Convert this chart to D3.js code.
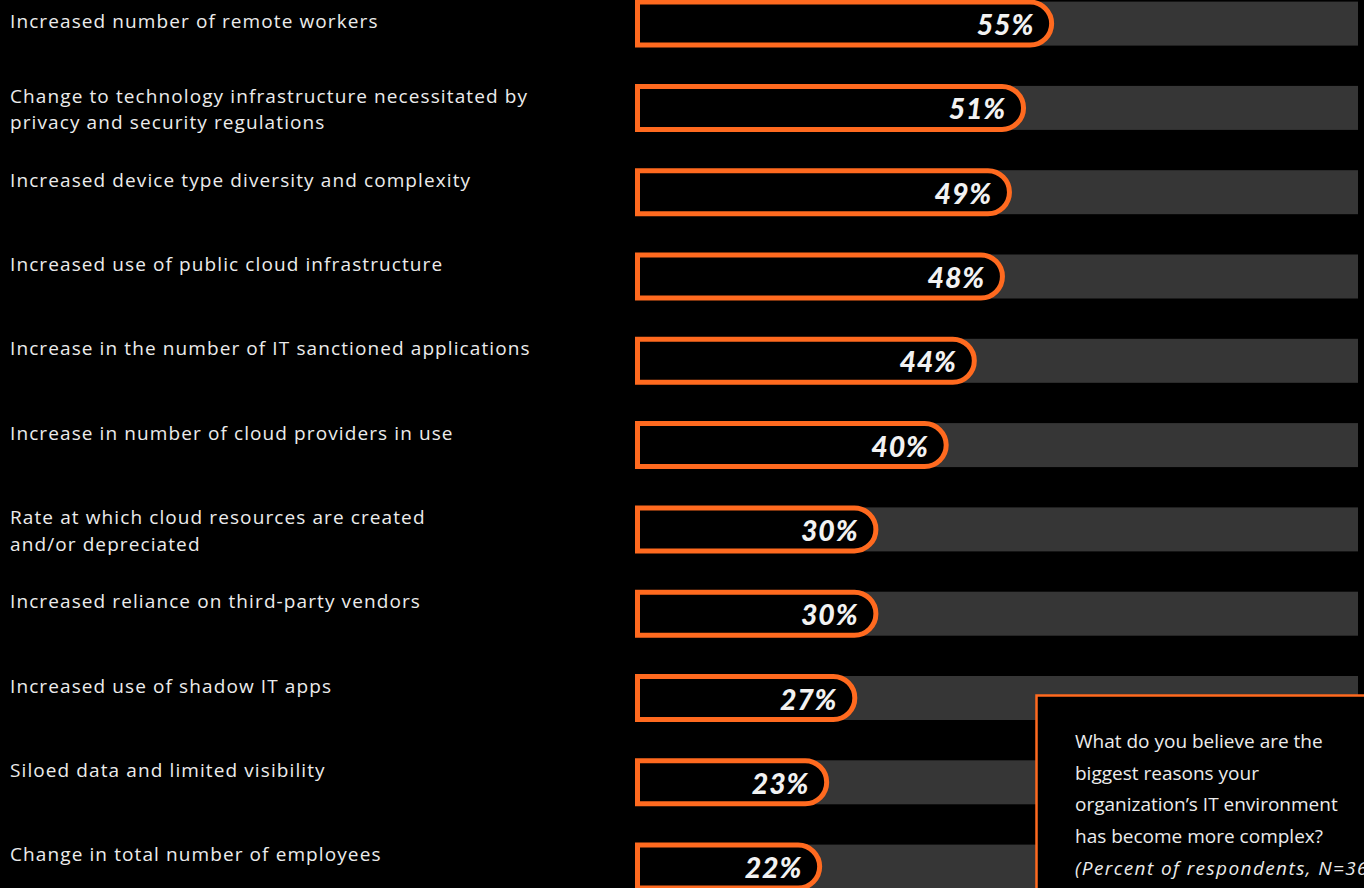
<!DOCTYPE html>
<html>
<head>
<meta charset="utf-8">
<script src="https://cdn.jsdelivr.net/npm/d3@7"></script>
<style>
  html, body { margin: 0; padding: 0; background: #000; overflow: hidden; }
  svg { display: block; }
</style>
</head>
<body>
<svg id="chart" width="1364" height="888"></svg>
<script>
// Reasons for growing IT complexity (percent of respondents)
const categories = [
  "Increased number of remote workers",
  "Change to technology infrastructure necessitated by\nprivacy and security regulations",
  "Increased device type diversity and complexity",
  "Increased use of public cloud infrastructure",
  "Increase in the number of IT sanctioned applications",
  "Increase in number of cloud providers in use",
  "Rate at which cloud resources are created\nand/or depreciated",
  "Increased reliance on third-party vendors",
  "Increased use of shadow IT apps",
  "Siloed data and limited visibility",
  "Change in total number of employees"
];
const values = [55, 51, 49, 48, 44, 40, 30, 30, 27, 23, 22];
const questionLines = [
  "What do you believe are the",
  "biggest reasons your",
  "organization\u2019s IT environment",
  "has become more complex?"
];
const noteLine = "(Percent of respondents, N=365)";

const ORANGE = "#ff6a1f";
const TRACK = "#363636";
const TEXT = "#ececec";

const svg = d3.select("#chart");

const rows = values.map((v, i) => ({ label: categories[i], value: v, i }));

// vertical layout: one band per category
const y = d3.scaleBand()
  .domain(rows.map(d => d.i))
  .range([-0.4, -0.4 + 84.3 * rows.length])
  .paddingInner(0).paddingOuter(0);

// horizontal value scale for the bar ends
const x = d3.scaleLinear().domain([0, 100]).range([667.5, 1370.5]);

const barLeft = 635;
const trackRight = 1358;
const barH = 48;     // outer height of the outlined bar
const sw = 5;        // outline width

const g = svg.append("g");

const row = g.selectAll("g.row").data(rows).join("g")
  .attr("class", "row")
  .attr("transform", d => `translate(0,${y(d.i)})`);

// grey background track
row.append("rect")
  .attr("x", barLeft)
  .attr("y", 2)
  .attr("width", trackRight - barLeft)
  .attr("height", 44)
  .attr("fill", TRACK);

// outlined value bar: square left edge, round right cap
row.append("path")
  .attr("d", d => {
    const x0 = barLeft + sw / 2;
    const x1 = x(d.value) - sw / 2;
    const t = sw / 2, b = barH - sw / 2;
    const r = (b - t) / 2;
    return `M${x0},${t}H${x1 - r}A${r},${r} 0 0 1 ${x1 - r},${b}H${x0}Z`;
  })
  .attr("fill", "#000")
  .attr("stroke", ORANGE)
  .attr("stroke-width", sw);

// percentage labels inside the bars
row.append("text")
  .attr("x", d => x(d.value) - 20)
  .attr("y", 35.5)
  .attr("text-anchor", "end")
  .attr("fill", "#f2f2f2")
  .style("font-family", "Lato, 'Open Sans', sans-serif")
  .style("font-weight", 900)
  .style("font-style", "italic")
  .style("font-size", "28.5px")
  .style("letter-spacing", "0.8px")
  .text(d => d.value + "%");

// category labels on the left
row.append("text")
  .attr("x", 10)
  .attr("y", d => d.i === 0 ? 28.4 : 18.6)
  .attr("fill", TEXT)
  .style("font-family", "'Open Sans', Lato, sans-serif")
  .style("font-weight", 400)
  .style("font-size", "19px")
  .style("letter-spacing", "1.1px")
  .selectAll("tspan")
  .data(d => d.label.split("\n"))
  .join("tspan")
  .attr("x", 10)
  .attr("dy", (l, j) => j === 0 ? 0 : 27)
  .text(l => l);

// question box in the lower right
const box = svg.append("g");
box.append("rect")
  .attr("x", 1036.5)
  .attr("y", 695.5)
  .attr("width", 400)
  .attr("height", 300)
  .attr("fill", "#000")
  .attr("stroke", ORANGE)
  .attr("stroke-width", 2.5);

const boxText = box.append("text")
  .attr("x", 1075)
  .attr("y", 748)
  .attr("fill", TEXT)
  .style("font-family", "'Open Sans', Lato, sans-serif")
  .style("font-size", "19px");

boxText.selectAll("tspan.q")
  .data(questionLines)
  .join("tspan")
  .attr("class", "q")
  .attr("x", 1075)
  .attr("dy", (l, j) => j === 0 ? 0 : 31.7)
  .text(l => l);

boxText.append("tspan")
  .attr("x", 1075)
  .attr("dy", 31.7)
  .style("font-style", "italic")
  .style("letter-spacing", "1.4px")
  .text(noteLine);
</script>
</body>
</html>
